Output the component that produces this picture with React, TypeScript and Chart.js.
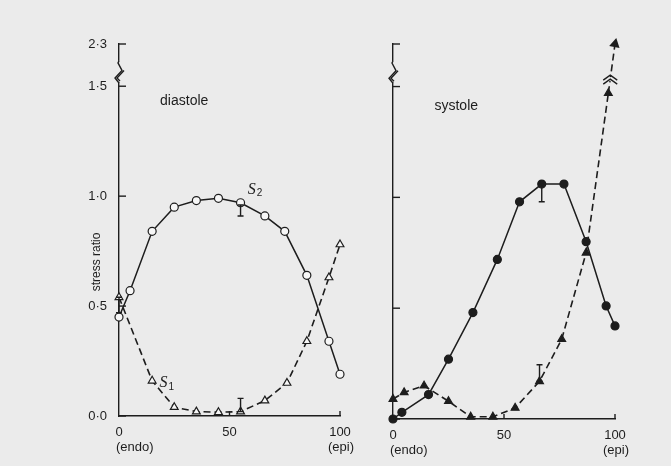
import React, { useEffect, useRef } from "react";
import { Chart, registerables } from "chart.js";
Chart.register(...registerables);

// ---------- data ----------
const xTickValues = [0, 50, 100];
const xTickLabels = ["0", "50", "100"];
const xEndLabels = ["(endo)", "(epi)"];
const yTickValues = [0, 0.5, 1.0, 1.5, 2.3];
const yTickLabels = ["0·0", "0·5", "1·0", "1·5", "2·3"];

// diastole
const diaS2X = [0, 5, 15, 25, 35, 45, 55, 66, 75, 85, 95, 100];
const diaS2 = [0.45, 0.57, 0.84, 0.95, 0.98, 0.99, 0.97, 0.91, 0.84, 0.64, 0.34, 0.19];
const diaS1X = [0, 15, 25, 35, 45, 55, 66, 76, 85, 95, 100];
const diaS1 = [0.54, 0.16, 0.04, 0.02, 0.017, 0.02, 0.07, 0.15, 0.34, 0.63, 0.78];
const diaErrX = [0, 55, 55];
const diaErrLo = [0.47, 0.91, 0.02];
const diaErrHi = [0.54, 0.96, 0.08];

// systole
const sysS2X = [0, 4, 16, 25, 36, 47, 57, 67, 77, 87, 96, 100];
const sysS2 = [0, 0.03, 0.11, 0.27, 0.48, 0.72, 0.98, 1.06, 1.06, 0.8, 0.51, 0.42];
const sysS1X = [0, 5, 14, 25, 35, 45, 55, 66, 76, 87, 97];
const sysS1 = [0.09, 0.12, 0.15, 0.08, 0.01, 0.01, 0.05, 0.17, 0.36, 0.75, 1.47];
const sysArrowX = [97, 100];
const sysArrow = [1.47, 2.3];
const sysErrX = [67, 66];
const sysErrLo = [0.98, 0.17];
const sysErrHi = [1.06, 0.245];

// broken axis: values above 1.5 are compressed
const BREAK_LOW = 1.5;
const BREAK_HIGH = 2.3;
const BREAK_SCALE = 0.24;
const mapY = (v: number) => (v <= BREAK_LOW ? v : BREAK_LOW + (v - BREAK_LOW) * BREAK_SCALE);
const Y_MAX = mapY(BREAK_HIGH);

const INK = "#1d1d1d";
const BG = "#ebebeb";
const SANS = "'Liberation Sans', Arial, sans-serif";
const SERIF = "'Liberation Serif', 'Times New Roman', serif";

const pts = (xs: number[], ys: number[]) => xs.map((x, i) => ({ x, y: mapY(ys[i]) }));

type PanelCfg = {
  width: number;
  height: number;
  area: { left: number; right: number; top: number; bottom: number };
  filled: boolean;
  showYLabels: boolean;
  title: string;
  titlePos: [number, number];
  s2Pos: [number, number] | null;
  s1Pos: [number, number] | null;
  s2: { x: number; y: number }[];
  s1: { x: number; y: number }[];
  arrow: { x: number; y: number }[] | null;
  errX: number[];
  errLo: number[];
  errHi: number[];
  yTitle: boolean;
};

function Panel({ cfg, left }: { cfg: PanelCfg; left: number }) {
  const ref = useRef<HTMLCanvasElement>(null);
  useEffect(() => {
    const canvas = ref.current!;
    const { area } = cfg;
    const fill = cfg.filled ? INK : "#f7f7f7";

    const overlay = {
      id: "overlay",
      afterDraw(chart: any) {
        const ctx = chart.ctx as CanvasRenderingContext2D;
        const xs = chart.scales.x;
        const ys = chart.scales.y;
        const ax = xs.getPixelForValue(0);
        const ay = ys.getPixelForValue(0);
        ctx.save();
        ctx.strokeStyle = INK;
        ctx.fillStyle = INK;
        ctx.lineWidth = 1.4;
        ctx.lineCap = "butt";
        // inward y ticks
        yTickValues.forEach((v) => {
          const py = ys.getPixelForValue(mapY(v));
          ctx.beginPath();
          ctx.moveTo(ax, py);
          ctx.lineTo(ax + 7, py);
          ctx.stroke();
        });
        // inward x ticks
        xTickValues.forEach((v) => {
          if (v === 0) return;
          const px = xs.getPixelForValue(v);
          ctx.beginPath();
          ctx.moveTo(px, ay);
          ctx.lineTo(px, ay - 5);
          ctx.stroke();
        });
        // axis break zigzag
        const b1 = ys.getPixelForValue(mapY(1.58));
        const b2 = ys.getPixelForValue(mapY(1.98));
        ctx.fillStyle = BG;
        ctx.fillRect(ax - 2, b2, 4, b1 - b2);
        ctx.beginPath();
        ctx.moveTo(ax, b1 + 1);
        ctx.lineTo(ax - 4, b1 - 4);
        ctx.lineTo(ax + 3, (b1 + b2) / 2 - 1);
        ctx.lineTo(ax - 1, b2 + 2);
        ctx.lineTo(ax, b2);
        ctx.stroke();
        ctx.beginPath();
        ctx.moveTo(ax + 1, b1 - 1);
        ctx.lineTo(ax - 2, b1 - 4);
        ctx.lineTo(ax + 5, (b1 + b2) / 2 - 1);
        ctx.stroke();
        ctx.fillStyle = INK;
        // error bars
        ctx.lineWidth = 1.4;
        cfg.errX.forEach((ex, i) => {
          const px = xs.getPixelForValue(ex);
          const p1 = ys.getPixelForValue(mapY(cfg.errLo[i]));
          const p2 = ys.getPixelForValue(mapY(cfg.errHi[i]));
          ctx.beginPath();
          ctx.moveTo(px, p1);
          ctx.lineTo(px, p2);
          ctx.moveTo(px - 3, p1);
          ctx.lineTo(px + 3, p1);
          ctx.moveTo(px - 3, p2);
          ctx.lineTo(px + 3, p2);
          ctx.stroke();
        });
        // break marks on arrow
        if (cfg.arrow) {
          const a0 = cfg.arrow[0];
          const a1 = cfg.arrow[1];
          const x0 = xs.getPixelForValue(a0.x), y0 = ys.getPixelForValue(a0.y);
          const x1 = xs.getPixelForValue(a1.x), y1 = ys.getPixelForValue(a1.y);
          const by = ys.getPixelForValue(mapY(1.64));
          const t = (by - y0) / (y1 - y0);
          const bx = x0 + (x1 - x0) * t;
          ctx.fillStyle = BG;
          ctx.fillRect(bx - 3, by - 2, 6, 4);
          ctx.lineWidth = 1.3;
          [-2, 2].forEach((d) => {
            ctx.beginPath();
            ctx.moveTo(bx - 7, by + d + 3);
            ctx.lineTo(bx, by + d - 2);
            ctx.lineTo(bx + 7, by + d + 3);
            ctx.stroke();
          });
          ctx.fillStyle = INK;
        }
        // texts
        ctx.fillStyle = INK;
        ctx.font = `14px ${SANS}`;
        ctx.textAlign = "center";
        ctx.textBaseline = "middle";
        ctx.fillText(cfg.title, xs.getPixelForValue(cfg.titlePos[0]), ys.getPixelForValue(cfg.titlePos[1]));
        const drawS = (pos: [number, number], sub: string) => {
          const px = xs.getPixelForValue(pos[0]);
          const py = ys.getPixelForValue(pos[1]);
          ctx.font = `italic 16px ${SERIF}`;
          ctx.textAlign = "left";
          ctx.fillText("S", px - 6, py);
          ctx.font = `10px ${SANS}`;
          ctx.fillText(sub, px + 3, py + 4);
        };
        if (cfg.s2Pos) drawS(cfg.s2Pos, "2");
        if (cfg.s1Pos) drawS(cfg.s1Pos, "1");
        ctx.font = `13px ${SANS}`;
        ctx.textAlign = "left";
        ctx.fillText(xEndLabels[0], xs.getPixelForValue(0) - 3, ay + 31);
        ctx.textAlign = "right";
        ctx.fillText(xEndLabels[1], xs.getPixelForValue(100) + 14, ay + 31);
        if (cfg.yTitle) {
          ctx.save();
          ctx.translate(97, 262);
          ctx.rotate(-Math.PI / 2);
          ctx.textAlign = "center";
          ctx.font = `12px ${SANS}`;
          ctx.fillText("stress ratio", 0, 0);
          ctx.restore();
        }
        ctx.restore();
      },
    };

    const datasets: any[] = [
      {
        data: cfg.s2,
        borderColor: INK,
        borderWidth: 1.5,
        pointStyle: "circle",
        pointRadius: 4,
        pointBorderWidth: 1.2,
        pointBorderColor: INK,
        pointBackgroundColor: fill,
        tension: 0,
        clip: false,
      },
      {
        data: cfg.s1,
        borderColor: INK,
        borderWidth: 1.6,
        borderDash: [7, 4],
        pointStyle: "triangle",
        pointRadius: 4.5,
        pointBorderWidth: 1.2,
        pointBorderColor: INK,
        pointBackgroundColor: fill,
        tension: 0,
        clip: false,
      },
    ];
    if (cfg.arrow) {
      datasets.push({
        data: cfg.arrow,
        borderColor: INK,
        borderWidth: 1.6,
        borderDash: [7, 4],
        pointStyle: "triangle",
        pointRadius: [0, 4.5],
        pointRotation: 12,
        pointBorderColor: INK,
        pointBackgroundColor: INK,
        tension: 0,
        clip: false,
      });
    }

    const chart = new Chart(canvas, {
      type: "line",
      data: { datasets },
      plugins: [overlay],
      options: {
        animation: false,
        responsive: false,
        devicePixelRatio: 1,
        layout: { padding: { left: 0, right: cfg.width - area.right, top: area.top, bottom: 0 } },
        plugins: { legend: { display: false }, tooltip: { enabled: false } },
        scales: {
          x: {
            type: "linear",
            min: 0,
            max: 100,
            afterFit: (s: any) => {
              s.height = cfg.height - area.bottom;
            },
            afterBuildTicks: (s: any) => {
              s.ticks = xTickValues.map((v) => ({ value: v }));
            },
            ticks: {
              callback: (_v: any, i: number) => xTickLabels[i],
              font: { family: SANS, size: 13 },
              color: INK,
              padding: 1,
              maxRotation: 0,
              autoSkip: false,
            },
            grid: { display: false },
            border: { display: true, color: INK, width: 1.4 },
          },
          y: {
            type: "linear",
            min: 0,
            max: Y_MAX,
            afterFit: (s: any) => {
              s.width = area.left;
            },
            afterBuildTicks: (s: any) => {
              s.ticks = yTickValues.map((v) => ({ value: mapY(v) }));
            },
            ticks: {
              display: cfg.showYLabels,
              callback: (_v: any, i: number) => yTickLabels[i],
              font: { family: SANS, size: 13 },
              color: INK,
              padding: 4,
              autoSkip: false,
            },
            grid: { display: false },
            border: { display: true, color: INK, width: 1.4 },
          },
        },
      } as any,
    });
    return () => chart.destroy();
  }, [cfg]);
  return (
    <canvas
      ref={ref}
      width={cfg.width}
      height={cfg.height}
      style={{ position: "absolute", left, top: 0, width: cfg.width, height: cfg.height }}
    />
  );
}

const leftCfg: PanelCfg = {
  width: 365,
  height: 466,
  area: { left: 119, right: 340, top: 44, bottom: 416 },
  filled: false,
  showYLabels: true,
  title: "diastole",
  titlePos: [29.5, 1.43],
  s2Pos: [61, 1.03],
  s1Pos: [21, 0.15],
  s2: pts(diaS2X, diaS2),
  s1: pts(diaS1X, diaS1),
  arrow: null,
  errX: diaErrX,
  errLo: diaErrLo,
  errHi: diaErrHi,
  yTitle: true,
};

const rightCfg: PanelCfg = {
  width: 306,
  height: 466,
  area: { left: 28, right: 250, top: 44, bottom: 419 },
  filled: true,
  showYLabels: false,
  title: "systole",
  titlePos: [28.5, 1.41],
  s2Pos: null,
  s1Pos: null,
  s2: pts(sysS2X, sysS2),
  s1: pts(sysS1X, sysS1),
  arrow: pts(sysArrowX, sysArrow),
  errX: sysErrX,
  errLo: sysErrLo,
  errHi: sysErrHi,
  yTitle: false,
};

export default function App() {
  return (
    <div
      style={{
        position: "fixed",
        left: 0,
        top: 0,
        width: 671,
        height: 466,
        background: BG,
        overflow: "hidden",
      }}
    >
      <Panel cfg={leftCfg} left={0} />
      <Panel cfg={rightCfg} left={365} />
    </div>
  );
}
